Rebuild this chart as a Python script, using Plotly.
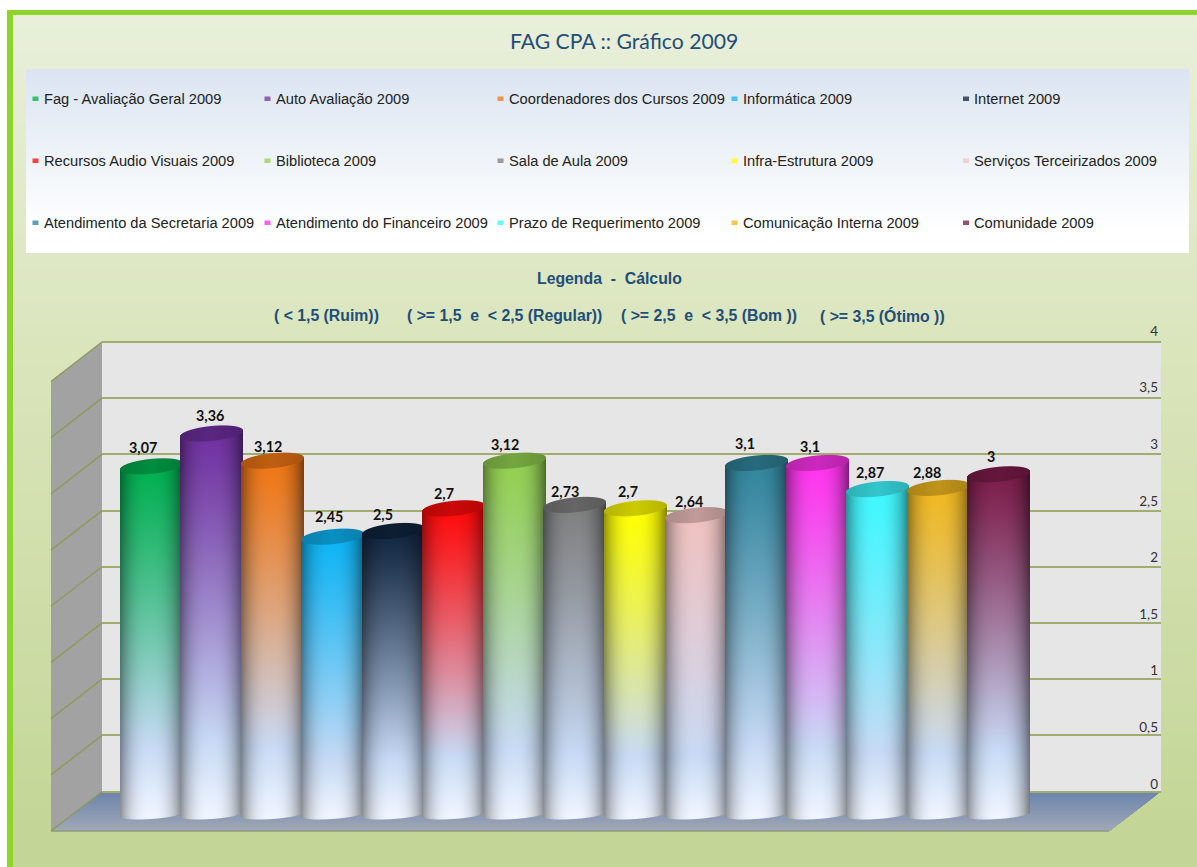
import numpy as np
import plotly.graph_objects as go

series_names = ["Fag - Avaliação Geral 2009", "Auto Avaliação 2009", "Coordenadores dos Cursos 2009",
                "Informática 2009", "Internet 2009", "Recursos Audio Visuais 2009", "Biblioteca 2009",
                "Sala de Aula 2009", "Infra-Estrutura 2009", "Serviços Terceirizados 2009",
                "Atendimento da Secretaria 2009", "Atendimento do Financeiro 2009",
                "Prazo de Requerimento 2009", "Comunicação Interna 2009", "Comunidade 2009"]
series_values = [3.07, 3.36, 3.12, 2.45, 2.5, 2.7, 3.12, 2.73, 2.7, 2.64, 3.1, 3.1, 2.87, 2.88, 3]
series_colors = ["#00b050", "#7030a0", "#f07614", "#0cb4f4", "#10253f", "#ff0a0a", "#92d050", "#7f7f7f",
                 "#ffff00", "#f0c2c0", "#31859c", "#ff33ee", "#3ef8ff", "#f0b820", "#7d1c4a"]
axis_ticks = [0, 0.5, 1, 1.5, 2, 2.5, 3, 3.5, 4]
title_text = "FAG CPA :: Gráfico 2009"
caption_title = "Legenda\u00a0\u00a0-\u00a0\u00a0Cálculo"
caption_parts = ["( < 1,5 (Ruim))", "( >= 1,5\u00a0\u00a0e\u00a0\u00a0< 2,5 (Regular))",
                 "( >= 2,5\u00a0\u00a0e\u00a0\u00a0< 3,5 (Bom ))", "( >= 3,5 (Ótimo ))"]
# small placement offsets of the value labels, in pixels (style, not data)
label_dx = [-8.5, -1.6, -4, -3.7, -10.3, -10, -9.4, -10, -7.6, -7, -11.7, -7.3, -7.8, -11.4, -8]
label_dy = [18.4, 17.5, 13.7, 19.7, 17, 15.3, 15.7, 13.9, 17.3, 14.1, 19, 16, 17, 15.9, 18.3]

W, H = 1197, 867
NAVY = "#1f4e79"


def px(x):
    return x / W


def py(y):
    return 1 - y / H


def hex_rgb(c):
    return np.array([int(c[k:k + 2], 16) for k in (1, 3, 5)], float)


def lerp(a, b, t):
    return a + (b - a) * t


def css(rgb):
    return "rgb(%d,%d,%d)" % tuple(np.round(rgb))


def rect(x0, y0, x1, y1, color):
    return dict(type="rect", xref="paper", yref="paper", layer="below", x0=px(x0), x1=px(x1), y0=py(y0), y1=py(y1),
                fillcolor=color, line_width=0)


def poly(points, color):
    d = "M" + "L".join("%.5f,%.5f" % (px(a), py(b)) for a, b in points) + "Z"
    return dict(type="path", xref="paper", yref="paper", layer="below", path=d, fillcolor=color, line_width=0)


def seg(x0, y0, x1, y1, color, width=1.5):
    return dict(type="line", xref="paper", yref="paper", layer="below", x0=px(x0), x1=px(x1), y0=py(y0), y1=py(y1),
                line=dict(color=color, width=width))


shapes = []
# page: white margin, lime frame, soft vertical gradient
shapes.append(rect(0, 0, W, H, "#ffffff"))
shapes.append(rect(7, 10, W, H, "#8fd42c"))
page_top, page_mid, page_bot = hex_rgb("#e9efda"), hex_rgb("#dce6bf"), hex_rgb("#c4d697")
for y in range(15, H, 4):
    t = (y - 15) / (H - 15)
    c = lerp(page_top, page_mid, t / 0.35) if t < 0.35 else lerp(page_mid, page_bot, (t - 0.35) / 0.6) if t < 0.95 else page_bot
    shapes.append(rect(13, y, W, H, css(c)))
# legend panel
panel_top, panel_bot = hex_rgb("#dbe5f1"), hex_rgb("#ffffff")
for y in range(69, 253, 3):
    t = min(1, (y - 69) / 160)
    shapes.append(rect(26, y, 1189, 253, css(lerp(panel_top, panel_bot, t))))

# 3D frame
WALL_L, WALL_R, WALL_T, WALL_B = 102, 1161, 342, 791.5
FRONT_L, FRONT_R, FRONT_B = 51, 1109, 831
shapes.append(rect(WALL_L, WALL_T, WALL_R, WALL_B, "#e6e6e6"))
shapes.append(poly([(WALL_L, WALL_T), (FRONT_L, WALL_T + 39), (FRONT_L, FRONT_B), (WALL_L, WALL_B)], "#a2a2a2"))
floor_a, floor_b = hex_rgb("#6c85ad"), hex_rgb("#a3a9b6")
steps = 20
for k in range(steps):
    t0 = k / steps
    shapes.append(poly([(lerp(WALL_L, FRONT_L, t0), lerp(WALL_B, FRONT_B, t0)),
                        (lerp(WALL_R, FRONT_R, t0), lerp(WALL_B, FRONT_B, t0)),
                        (FRONT_R, FRONT_B), (FRONT_L, FRONT_B)], css(lerp(floor_a, floor_b, t0))))
shapes.append(seg(FRONT_L, FRONT_B, FRONT_R, FRONT_B, "#8f9a80", 1.5))
GRID = "#a0ad6e"
for v in axis_ticks:
    Y = WALL_B - (WALL_B - WALL_T) * v / 4
    shapes.append(seg(WALL_L, Y, FRONT_L, Y + 39.5, "#8f9a5c", 1.5))

# scales of the front plane where the cylinders stand
PITCH, CX0 = 60.57, 151.0
UNIT, BASE_Y = 113.4, 814.5
R = 31.5
Y_FLOOR = -0.2
x_lo, x_hi = (FRONT_L - CX0) / PITCH, (WALL_R - CX0) / PITCH
bar_dom_y = [py(BASE_Y - Y_FLOOR * UNIT), py(BASE_Y - 4 * UNIT)]
bar_dom_x = [px(FRONT_L), px(WALL_R)]

low, high = hex_rgb("#c8daf5"), hex_rgb("#eff5ff")
BAND = 0.81


def cylinder(i, value):
    top_y = BASE_Y - value * UNIT
    ncol = int(2 * R + 2)
    cols = np.arange(ncol) - ncol / 2 + 0.5
    y_top_px = int(np.floor(top_y - 12))
    y_bot_px = int(np.ceil(BASE_Y + 8))
    ys = np.arange(y_bot_px, y_top_px, -1) + 0.5   # row 0 is the lowest one on a non-reversed axis
    X, Y = np.meshgrid(cols, ys)
    u = np.clip(X / R, -1, 1)
    root = np.sqrt(1 - u ** 2)
    face_c = top_y - 3.0 * u
    face_up = face_c - 7.5 * root
    face_lo = face_c + 7.5 * root
    floor_lo = BASE_Y - 2.2 * u + 4.5 * root
    t = np.clip((Y - top_y) / (BASE_Y - top_y), 0, 1)
    base = hex_rgb(series_colors[i])
    k = np.clip(t / BAND, 0, 1) ** 1.15
    body = base[None, None, :] * (1 - k[..., None]) + low[None, None, :] * k[..., None]
    e = np.clip((t - BAND) / (1 - BAND), 0, 1)[..., None]
    body = body * (1 - e) + high[None, None, :] * e
    shade = 1 - 0.46 * np.abs(u + 0.03) ** 2.6
    body = body * shade[..., None]
    face = base * 0.8
    face = face[None, None, :] * (1 - 0.12 * np.abs(u)[..., None])
    f = np.clip(face_lo - Y + 0.5, 0, 1)[..., None]
    rgb = body * (1 - f) + face * f
    alpha = np.clip(floor_lo - Y + 0.5, 0, 1) * np.clip(Y - face_up + 0.5, 0, 1) * np.clip(R - np.abs(X) + 0.5, 0, 1)
    z = np.dstack([np.round(rgb), np.round(alpha, 2)])
    return go.Image(z=z.tolist(), colormodel="rgba", x0=i + cols[0] / PITCH, dx=1 / PITCH,
                    y0=(BASE_Y - ys[0]) / UNIT, dy=1 / UNIT, xaxis="x3", yaxis="y4",
                    hoverinfo="skip", name=series_names[i])


fig = go.Figure()
# empty anchors so that the wall grid and the printed axis are drawn
fig.add_trace(go.Scatter(x=[0, 1], y=[0, 4], mode="none", xaxis="x", yaxis="y", hoverinfo="skip", showlegend=False))
fig.add_trace(go.Scatter(x=[0, 1], y=[0, 4], mode="none", xaxis="x", yaxis="y2", hoverinfo="skip", showlegend=False))
for i, (name, value, color) in enumerate(zip(series_names, series_values, series_colors)):
    fig.add_trace(go.Bar(x=[i], y=[value], width=[0.9], name=name, marker=dict(color=color, line_width=0),
                         xaxis="x2", yaxis="y3", showlegend=False))
for i, value in enumerate(series_values):
    fig.add_trace(cylinder(i, value))

annotations = []


def label(x, y, text, size, color, anchor="left", family="Liberation Sans", bold=False):
    annotations.append(dict(xref="paper", yref="paper", x=px(x), y=py(y), text="<b>%s</b>" % text if bold else text,
                            showarrow=False, xanchor=anchor, yanchor="middle", borderpad=0,
                            font=dict(family=family, size=size, color=color)))


label(624, 41, title_text, 21.2, NAVY, "center", "Lato")
label(609, 278, caption_title, 15.8, NAVY, "center", bold=True)
for x, part in zip([273, 406, 620, 819], caption_parts):
    label(x, 316, part, 15.8, NAVY, bold=True)

legend_x = [42.5, 274.5, 507.5, 741.5, 973]
legend_y = [99, 161, 223]
for i, (name, color) in enumerate(zip(series_names, series_colors)):
    lx, ly = legend_x[i % 5], legend_y[i // 5]
    label(lx, ly, name, 14.67, "#222222")
    shapes.append(rect(lx - 10, ly - 2.5, lx - 4, ly + 2, css(lerp(hex_rgb(color), hex_rgb("#ffffff"), 0.22))))

# value labels follow the data values
for i, value in enumerate(series_values):
    annotations.append(dict(xref="x2", yref="y3", x=i, y=value, xshift=label_dx[i], yshift=label_dy[i],
                            showarrow=False, yanchor="middle",
                            text="<b>%s</b>" % ("%g" % value).replace(".", ","),
                            font=dict(family="Lato", size=14.3, color="#111111")))

hidden = dict(visible=False, showgrid=False, zeroline=False)
# the value axes run a little past 0 and 4, so that the end ticks and grid lines are kept
PAD = 0.05
PRINT_PAD = 0.25
wall_unit = (WALL_B - WALL_T) / 4
print_unit = (784 - 331) / 4
fig.update_layout(
    width=W, height=H, margin=dict(l=0, r=0, t=0, b=0), autosize=False,
    paper_bgcolor="rgba(0,0,0,0)", plot_bgcolor="rgba(0,0,0,0)",
    separators=", ", barmode="overlay", bargap=0, showlegend=False,
    shapes=shapes, annotations=annotations,
    # back wall with its grid
    xaxis=dict(domain=[px(WALL_L), px(WALL_R)], range=[0, 1], **hidden),
    yaxis=dict(domain=[py(WALL_B + PAD * wall_unit), py(WALL_T - PAD * wall_unit)], range=[-PAD, 4 + PAD], anchor="x",
               tickvals=axis_ticks, showgrid=True, gridcolor=GRID, gridwidth=1.5, zeroline=False,
               showticklabels=False, ticks=""),
    # tick labels, printed just above each grid line on the right
    yaxis2=dict(domain=[py(784 + PRINT_PAD * print_unit), py(331 - PRINT_PAD * print_unit)],
                range=[-PRINT_PAD, 4 + PRINT_PAD], anchor="x",
                side="right", tickvals=axis_ticks, tickformat="~g", ticklabelposition="inside", showgrid=False,
                zeroline=False, ticks="", showline=False,
                tickfont=dict(family="Lato", size=13.5, color="#333333")),
    # front plane
    xaxis2=dict(domain=bar_dom_x, range=[x_lo, x_hi], anchor="y3", **hidden),
    yaxis3=dict(domain=bar_dom_y, range=[Y_FLOOR, 4], anchor="x2", **hidden),
    xaxis3=dict(domain=bar_dom_x, range=[x_lo, x_hi], anchor="y4", overlaying="x2", **hidden),
    yaxis4=dict(domain=bar_dom_y, range=[Y_FLOOR, 4], anchor="x3", overlaying="y3", **hidden),
)
fig.write_html("out.html", config=dict(displayModeBar=False),
               post_script="document.body.style.margin='0';document.body.style.overflow='hidden';")
